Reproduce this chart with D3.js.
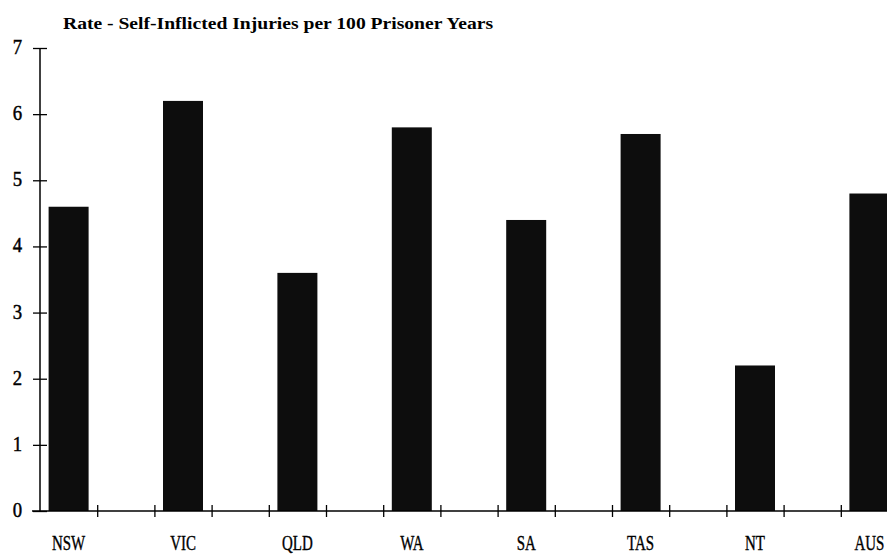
<!DOCTYPE html>
<html>
<head>
<meta charset="utf-8">
<script src="https://cdn.jsdelivr.net/npm/d3@7"></script>
<style>
  body { margin: 0; background: #fff; }
  svg { display: block; }
  text { font-family: "Liberation Serif", "Times New Roman", serif; fill: #000; }
</style>
</head>
<body>
<div id="container"></div>
<script>
// data
let states = ['NSW', 'VIC', 'QLD', 'WA', 'SA', 'TAS', 'NT', 'AUS']
let rates = [4.6, 6.2, 3.6, 5.8, 4.4, 5.7, 2.2, 4.8]
let yTicks = [0, 1, 2, 3, 4, 5, 6, 7]
let title = 'Rate - Self-Inflicted Injuries per 100 Prisoner Years'

let width = 887
let height = 554
let margin = {left: 40, top: 48, bottom: 511}

function main() {
    let svg = d3.select('#container').append('svg')
      .attr('width', width)
      .attr('height', height)

    let data = states.map((s, i) => ({state: s, rate: rates[i]}))

    // each state gets a step; the bar sits in the left half of it
    let step = 114.4
    let x = d3.scaleBand()
      .domain(states)
      .range([margin.left, margin.left + step * states.length])
      .padding(0)

    let y = d3.scaleLinear()
      .domain([0, 7])
      .range([margin.bottom, margin.top])

    let barW = 40
    let center = d => x(d) + x.bandwidth() / 4

    svg.selectAll('rect.bar')
      .data(data)
      .enter()
      .append('rect')
      .attr('class', 'bar')
      .attr('x', d => center(d.state) - barW / 2)
      .attr('y', d => y(d.rate))
      .attr('width', barW)
      .attr('height', d => y(0) - y(d.rate))
      .style('fill', '#0d0d0d')

    // y axis
    let yAxis = d3.axisLeft(y)
      .tickValues(yTicks)
      .tickSize(7)
      .tickFormat('')
    let gy = svg.append('g')
      .attr('transform', `translate(${margin.left},0)`)
      .call(yAxis)
    gy.select('.domain').attr('stroke', '#000').attr('stroke-width', 1.5)
      .attr('d', `M0,${margin.top}V${margin.bottom}`)
    gy.selectAll('.tick line').attr('x1', -7).attr('x2', 7).attr('stroke-width', 1.3)

    svg.selectAll('text.ylab')
      .data(yTicks)
      .enter()
      .append('text')
      .attr('class', 'ylab')
      .attr('transform', d => `translate(22,${y(d) + 6}) scale(0.85,1)`)
      .attr('text-anchor', 'end')
      .style('font-size', '22px')
      .style('stroke', '#000')
      .style('stroke-width', 0.5)
      .text(d => d)

    // x axis, ticks every half step
    let xs = d3.scaleLinear()
      .domain([0, states.length])
      .range([margin.left, margin.left + step * states.length])
    let xAxis = d3.axisBottom(xs)
      .tickValues(d3.range(1, 16).map(v => v / 2))
      .tickSize(6)
      .tickFormat('')
    let gx = svg.append('g')
      .attr('transform', `translate(0,${margin.bottom})`)
      .call(xAxis)
    gx.select('.domain').attr('stroke-width', 1.3)
      .attr('d', `M${margin.left - 8},0H${width}`)
    gx.selectAll('.tick line').attr('y1', -6).attr('y2', 6).attr('stroke-width', 1.3)

    svg.selectAll('text.xlab')
      .data(states)
      .enter()
      .append('text')
      .attr('class', 'xlab')
      .attr('transform', d => `translate(${center(d)},550) scale(0.68,1)`)
      .attr('text-anchor', 'middle')
      .style('font-size', '22px')
      .style('stroke', '#000')
      .style('stroke-width', 0.4)
      .text(d => d)

    svg.append('text')
      .attr('x', 63)
      .attr('y', 29)
      .attr('textLength', 430)
      .attr('lengthAdjust', 'spacingAndGlyphs')
      .style('font-size', '16px')
      .style('font-weight', 'bold')
      .text(title)
}

main()
</script>
</body>
</html>
